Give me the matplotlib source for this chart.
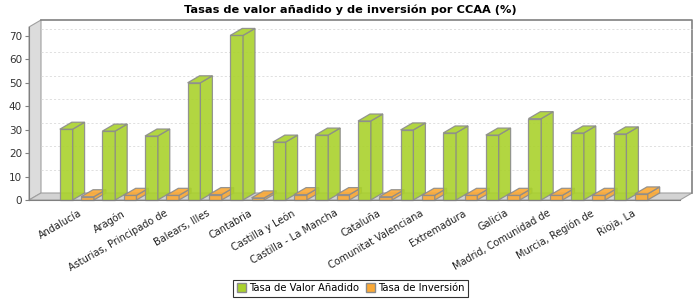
import matplotlib
matplotlib.use("Agg")
import matplotlib.pyplot as plt
from matplotlib.patches import Polygon, Rectangle

# Data
regiones = ["Andalucía", "Aragón", "Asturias, Principado de", "Balears, Illes",
            "Cantabria", "Castilla y León", "Castilla - La Mancha", "Cataluña",
            "Comunitat Valenciana", "Extremadura", "Galicia",
            "Madrid, Comunidad de", "Murcia, Región de", "Rioja, La"]
valor_anadido = [30.2, 29.4, 27.3, 50.0, 70.2, 24.7, 27.7, 33.7, 29.9, 28.6,
                 27.7, 34.7, 28.6, 28.2]
inversion = [1.4, 2.0, 2.0, 2.3, 0.9, 2.3, 2.3, 1.4, 2.0, 2.0, 2.0, 2.0, 2.0,
             2.6]
series_names = ["Tasa de Valor Añadido", "Tasa de Inversión"]

GREEN = "#aad22c"
ORANGE = "#fba935"
EDGE = "#8c8c8c"

W, H = 700, 300
fig = plt.figure(figsize=(W / 100, H / 100), dpi=100)
# front plot area in pixels: x 29..680, y 27..200 (from top)
ax = fig.add_axes([29 / W, 100 / H, 651 / W, 173 / H])
xmin, xmax = -1.123, 14.158
ymin, ymax = 0, 73.8
ax.set_xlim(xmin, xmax)
ax.set_ylim(ymin, ymax)

# 3D depth offset, converted from pixels to data units
dx_px, dy_px = 12, 7
ddx = dx_px * (xmax - xmin) / 651
ddy = dy_px * (ymax - ymin) / 173

# walls
left_wall = Polygon([(xmin, 0), (xmin + ddx, ddy), (xmin + ddx, ymax + ddy),
                     (xmin, ymax)], closed=True, facecolor="#dcdcdc",
                    edgecolor="#a0a0a0", lw=0.8, clip_on=False, zorder=1)
floor = Polygon([(xmin, 0), (xmin + ddx, ddy), (xmax + ddx, ddy), (xmax, 0)],
                closed=True, facecolor="#d3d3d3", edgecolor="#a0a0a0", lw=0.8,
                clip_on=False, zorder=1)
ax.add_patch(left_wall)
ax.add_patch(floor)
ax.plot([xmin + ddx, xmax + ddx, xmax + ddx], [ymax + ddy, ymax + ddy, ddy],
        color="#808080", lw=1.2, clip_on=False, zorder=1)
for v in range(10, 80, 10):
    if v < ymax:
        ax.plot([xmin + ddx, xmax + ddx], [v + ddy, v + ddy], color="#dadada",
                lw=0.6, ls=(0, (2.5, 2.5)), clip_on=False, zorder=1.5)


def bar3d(x0, width, h, color):
    front = Rectangle((x0, 0), width, h, facecolor=color, edgecolor=EDGE,
                      lw=0.9, alpha=0.9, zorder=3, clip_on=False)
    side = Polygon([(x0 + width, 0), (x0 + width + ddx, ddy),
                    (x0 + width + ddx, h + ddy), (x0 + width, h)],
                   closed=True, facecolor=color, edgecolor=EDGE, lw=0.9,
                   alpha=0.9, zorder=3, clip_on=False)
    top = Polygon([(x0, h), (x0 + ddx, h + ddy), (x0 + width + ddx, h + ddy),
                   (x0 + width, h)], closed=True, facecolor=color,
                  edgecolor=EDGE, lw=0.9, alpha=0.9, zorder=3, clip_on=False)
    for p in (front, side, top):
        ax.add_patch(p)


bw = 0.3
for i in range(len(regiones)):
    bar3d(i - 0.25 - bw / 2, bw, valor_anadido[i], GREEN)
    bar3d(i + 0.25 - bw / 2, bw, inversion[i], ORANGE)

# axes styling
for s in ("top", "right"):
    ax.spines[s].set_visible(False)
ax.spines["left"].set_color("#808080")
ax.spines["bottom"].set_color("#808080")
ax.spines["left"].set_zorder(4)
ax.spines["bottom"].set_zorder(4)
ax.patch.set_visible(False)
ax.set_yticks(range(0, 80, 10))
ax.tick_params(axis="y", length=3, width=0.8, color="#808080", pad=2,
               labelsize=7.5, labelcolor="#333333")
ax.set_xticks([])

# category labels
for i, name in enumerate(regiones):
    ax.text(i + 0.05, -3.4, name, rotation=30, rotation_mode="anchor",
            ha="right", va="top", fontsize=7, color="#222222",
            clip_on=False)

fig.suptitle("Tasas de valor añadido y de inversión por CCAA (%)",
             x=0.5, y=0.985, fontsize=8.2, fontweight="bold", va="top")

handles = [Rectangle((0, 0), 1, 1, facecolor=GREEN, edgecolor=EDGE),
           Rectangle((0, 0), 1, 1, facecolor=ORANGE, edgecolor=EDGE)]
leg = fig.legend(handles, series_names, loc="center",
                 bbox_to_anchor=(350.5 / W, (H - 288) / H), ncol=2,
                 fontsize=7.2, frameon=True, fancybox=False, handlelength=0.9,
                 handleheight=0.9, handletextpad=0.3, columnspacing=0.7,
                 borderpad=0.35)
leg.get_frame().set_edgecolor("black")
leg.get_frame().set_linewidth(0.8)

fig.savefig("out.png", dpi=100)
